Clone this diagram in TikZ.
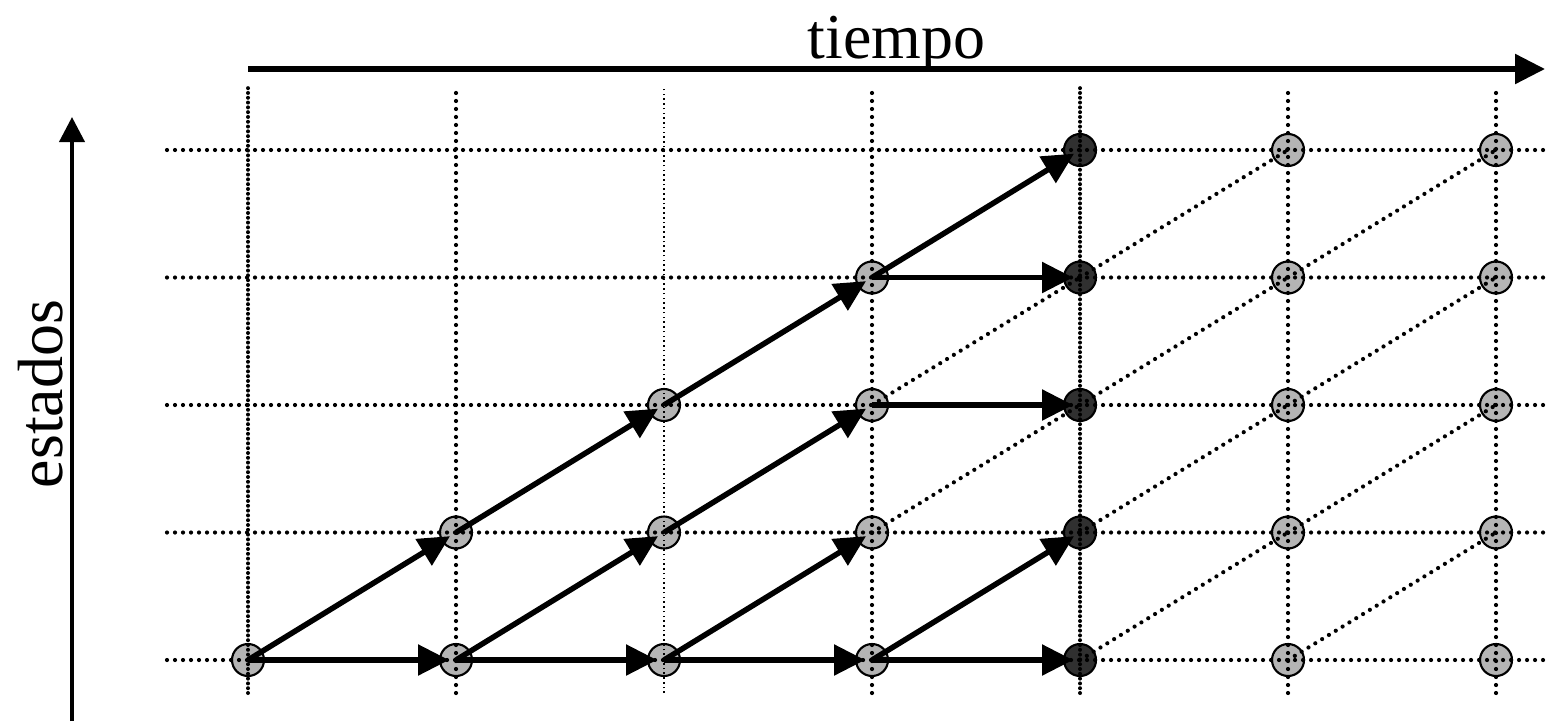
\documentclass[tikz,border=0pt]{standalone}
\usepackage{fontspec}
\setmainfont{Liberation Serif}
\usetikzlibrary{arrows.meta,positioning,calc}
\definecolor{pale}{RGB}{180,180,180}
\definecolor{coal}{RGB}{48,48,48}
\tikzset{
  >={Triangle[length=3.1mm,width=3mm]},
  state/.style={circle,draw=black,line width=0.6pt,fill=#1,minimum size=3.2mm,inner sep=0pt},
  state/.default=pale,
  gridline/.style={line width=0.042cm,dash pattern=on 0pt off 0.08cm,line cap=round},
  gridline dense/.style={line width=0.04cm,dash pattern=on 0pt off 0.048cm,line cap=round},
  gridline fine/.style={line width=0.45pt,dash pattern=on 0.45pt off 0.9pt},
  move/.style={->,line width=0.055cm,shorten >=0.07cm},
  lag/.style={gridline},
  axis/.style={line width=#1},
  label/.style={font=\fontsize{18.2}{20}\selectfont},
}
\begin{document}
\begin{tikzpicture}
  \useasboundingbox (0,0) rectangle (15.51,7.21);
  % states (only the reachable ones)
  \foreach \i in {0,...,6}{
    \foreach \j in {0,...,4}{
      \ifnum\j>\i\else
        \ifnum\i=4
          \node[state=coal] (n\i-\j) at ({2.48+2.08*\i},{0.61+1.275*\j}) {};
        \else
          \node[state] (n\i-\j) at ({2.48+2.08*\i},{0.61+1.275*\j}) {};
        \fi
      \fi
    }
  }
  % grid
  \foreach \j in {0,...,4}
    \draw[gridline] (1.67,{0.61+1.275*\j}) -- (15.51,{0.61+1.275*\j});
  \foreach \i/\s in {0/gridline dense,1/gridline,2/gridline fine,3/gridline,4/gridline dense,5/gridline,6/gridline}
    \draw[\s] ({2.48+2.08*\i},0.28) -- ({2.48+2.08*\i},6.33);
  % transitions not taken
  \draw[lag] (n3-1.center) -- (n4-2.center);
  \draw[lag] (n3-2.center) -- (n4-3.center);
  \foreach \i in {4,5}{
    \pgfmathtruncatemacro\k{\i+1}
    \foreach \j in {0,...,3}{
      \pgfmathtruncatemacro\m{\j+1}
      \draw[lag] (n\i-\j.center) -- (n\k-\m.center);
    }
  }
  % transitions taken
  \foreach \a/\b in {0-0/1-0,1-0/2-0,2-0/3-0,3-0/4-0,3-3/4-3,3-2/4-2,
                     0-0/1-1,1-1/2-2,2-2/3-3,3-3/4-4,1-0/2-1,2-1/3-2,2-0/3-1,3-0/4-1}
    \draw[move] (n\a.center) -- (n\b.center);
  % axes
  \coordinate (t0) at (2.48,6.52);
  \coordinate (t1) at (15.45,6.52);
  \draw[axis=0.055cm,-{Triangle[length=3mm,width=2.9mm]}] (t0) -- (t1);
  \node[label,anchor=base] (tiempo) at ($(t0)!0.5!(t1)+(0,0.11)$) {tiempo};
  \coordinate (e0) at (0.72,0);
  \coordinate (e1) at (0.72,6.04);
  \draw[axis=0.04cm,-{Triangle[length=2.5mm,width=2.5mm]}] (e0) -- (e1);
  \node[label,rotate=90,anchor=base] (estados) at (0.62,3.27) {estados};
\end{tikzpicture}
\end{document}
